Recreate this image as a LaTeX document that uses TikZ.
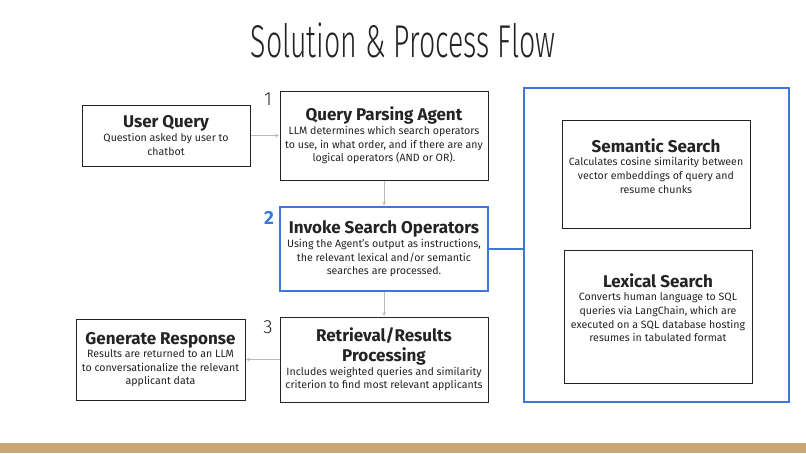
\documentclass[tikz,border=0pt]{standalone}
\usepackage{fontspec}
\setmainfont{Fira Sans}
\newfontfamily\titlefont[FakeStretch=0.62]{Fira Sans Light}
\newfontfamily\numfont{Fira Sans Light}
\definecolor{opblue}{RGB}{60,120,216}
\definecolor{bartan}{RGB}{201,166,118}
\definecolor{boxgray}{RGB}{35,35,35}
\tikzset{>=stealth}
\newcommand{\hd}[1]{{\fontsize{17}{18}\selectfont\bfseries #1}}

\begin{document}
\begin{tikzpicture}[x=1pt,y=-1pt,
  box/.style={draw=boxgray, line width=1pt, align=center, inner sep=0pt,
    font=\fontsize{10.6}{13.6}\selectfont, text=boxgray},
  link/.style={->, gray!55, line width=0.7pt, shorten >=0.5pt},
  num/.style={font=\numfont\fontsize{19}{19}\selectfont, text=boxgray}]
\useasboundingbox (0,0) rectangle (806,453);
\fill[bartan] (0,443) rectangle (806,453);
\node[font=\titlefont\fontsize{46}{46}\selectfont, text=boxgray] (title) at (403,40) {Solution \& Process Flow};

% flow boxes
\node[box, minimum width=168pt, minimum height=61pt] (uq) at (166,135.5)
  {\hd{User Query}\\Question asked by user to\\chatbot};
\node[box, minimum width=208pt, minimum height=89pt] (qpa) at (384,135.5)
  {\hd{Query Parsing Agent}\\LLM determines which search operators\\to use, in what order, and if there are any\\logical operators (AND or OR).};
\node[box, draw=opblue, line width=1.8pt, minimum width=208pt, minimum height=84pt] (iso) at (384,249)
  {\hd{Invoke Search Operators}\\Using the Agent's output as instructions,\\the relevant lexical and/or semantic\\searches are processed.};
\node[box, minimum width=208pt, minimum height=85pt] (ret) at (384,359.5)
  {\hd{Retrieval/Results}\\[3pt]\hd{Processing}\\Includes weighted queries and similarity\\criterion to find most relevant applicants};
\node[box, minimum width=169pt, minimum height=81pt] (gen) at (160.5,359.5)
  {\hd{Generate Response}\\Results are returned to an LLM\\to conversationalize the relevant\\applicant data};

% search operators
\node[draw=opblue, line width=1.8pt, minimum width=265pt, minimum height=314pt] (ops) at (656.5,245) {};
\node[box, minimum width=188pt, minimum height=108pt] (sem) at (656,174) {};
\node[box, draw=none, anchor=north] (semtxt) at (656,138)
  {\hd{Semantic Search}\\Calculates cosine similarity between\\vector embeddings of query and\\resume chunks};
\node[box, minimum width=188pt, minimum height=133pt] (lex) at (658,316.5) {};
\node[box, draw=none, anchor=north] (lextxt) at (658,273)
  {\hd{Lexical Search}\\Converts human language to SQL\\queries via LangChain, which are\\executed on a SQL database hosting\\resumes in tabulated format};

% step numbers
\node[num] (n1) at (268,99) {1};
\node[num, text=opblue, font=\bfseries\fontsize{19}{19}\selectfont] (n2) at (269,218) {2};
\node[num] (n3) at (268,327) {3};

% connectors
\draw[link] (uq) -- (qpa);
\draw[link] (qpa) -- (iso);
\draw[link] (iso) -- (ret);
\draw[link] (ret) -- (gen);
\draw[opblue, line width=1.8pt] (iso.east) -- (iso.east -| ops.west);
\end{tikzpicture}
\end{document}
